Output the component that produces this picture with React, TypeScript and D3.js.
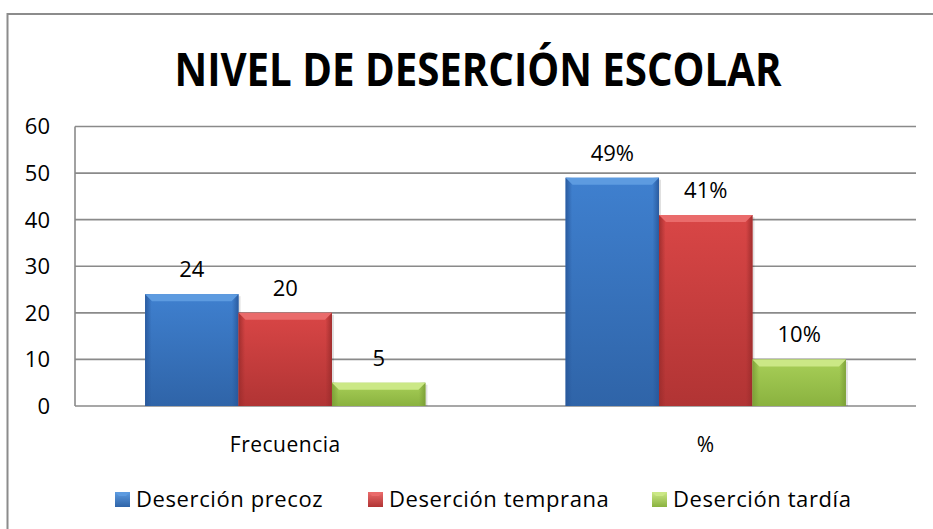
import React from "react";
import * as d3 from "d3";

const title = "NIVEL DE DESERCIÓN ESCOLAR";
const categories = ["Frecuencia", "%"];
const seriesNames = ["Deserción precoz", "Deserción temprana", "Deserción tardía"];
const precoz = [24, 49];
const temprana = [20, 41];
const tardia = [5, 10];
const labelSuffix = ["", "%"];
const yTicks = [0, 10, 20, 30, 40, 50, 60];

const seriesValues = [precoz, temprana, tardia];
const palettes = [
  { top: "#5d9be0", main1: "#3f80cf", main2: "#2f64a8", edge: "#28579a" },
  { top: "#ea6b6b", main1: "#d94646", main2: "#b13434", edge: "#9c2c2c" },
  { top: "#cbe886", main1: "#a8cf58", main2: "#8ab23f", edge: "#7a9e36" },
];

const W = 933;
const H = 529;
const left = 75;
const right = 916;
const top = 126.5;
const bottom = 406;
const FONT = "'Open Sans', sans-serif";

export default function App() {
  const y = d3.scaleLinear().domain([0, 60]).range([bottom, top]);
  const x0 = d3.scaleBand<string>().domain(categories).range([left, right]).paddingInner(0).paddingOuter(0);
  const groupW = x0.bandwidth();
  const barW = groupW / 4.5;
  const inner = d3.scaleBand<string>().domain(seriesNames).range([0.75 * barW, 0.75 * barW + 3 * barW]);

  return (
    <svg
      width={W}
      height={H}
      style={{ position: "absolute", left: 0, top: 0, background: "#fff" }}
      fontFamily={FONT}
    >
      <defs>
        {palettes.map((p, i) => (
          <React.Fragment key={i}>
            <linearGradient id={`main${i}`} x1="0" y1="0" x2="0" y2="1">
              <stop offset="0" stopColor={p.main1} />
              <stop offset="1" stopColor={p.main2} />
            </linearGradient>
            <linearGradient id={`side${i}`} x1="0" y1="0" x2="1" y2="0">
              <stop offset="0" stopColor={p.edge} stopOpacity={0.9} />
              <stop offset="0.07" stopColor={p.edge} stopOpacity={0} />
              <stop offset="0.93" stopColor={p.edge} stopOpacity={0} />
              <stop offset="1" stopColor={p.edge} stopOpacity={0.9} />
            </linearGradient>
            <linearGradient id={`leg${i}`} x1="0" y1="0" x2="0" y2="1">
              <stop offset="0" stopColor={p.top} />
              <stop offset="1" stopColor={p.main2} />
            </linearGradient>
          </React.Fragment>
        ))}
      </defs>

      {/* outer frame */}
      <rect x={7.5} y={14} width={W + 20} height={H + 20} fill="#fff" stroke="#8c8c8c" strokeWidth={2} />

      {/* title */}
      <text
        x={478}
        y={86}
        textAnchor="middle"
        fontSize={46}
        fontWeight="bold"
        fill="#000"
        textLength={607}
        lengthAdjust="spacingAndGlyphs"
      >
        {title}
      </text>

      {/* gridlines */}
      {yTicks.map((t) => (
        <g key={t}>
          <line x1={left} x2={right} y1={y(t)} y2={y(t)} stroke="#8a8a8a" strokeWidth={1.6} />
          <text x={50} y={y(t)} dy="0.36em" textAnchor="end" fontSize={22} fill="#000">
            {t}
          </text>
        </g>
      ))}
      <line x1={left} x2={left} y1={top} y2={bottom} stroke="#8a8a8a" strokeWidth={1.6} />

      {/* bars */}
      {categories.map((c, ci) => (
        <g key={c} transform={`translate(${x0(c)},0)`}>
          {seriesNames.map((s, si) => {
            const v = seriesValues[si][ci];
            const bx = inner(s)!;
            const by = y(v);
            const bh = bottom - by;
            const bev = Math.min(7, bh / 2);
            return (
              <g key={s}>
                <rect x={bx + 2} y={by + 2} width={barW} height={bh - 2} fill="#000" opacity={0.12} />
                <rect x={bx} y={by} width={barW} height={bh} fill={`url(#main${si})`} />
                <rect x={bx} y={by} width={barW} height={bh} fill={`url(#side${si})`} />
                <path
                  d={`M${bx},${by} L${bx + barW},${by} L${bx + barW - bev},${by + bev} L${bx + bev},${by + bev} Z`}
                  fill={palettes[si].top}
                />
                <text x={bx + barW / 2} y={by - 17} textAnchor="middle" fontSize={22} fill="#000">
                  {v + labelSuffix[ci]}
                </text>
              </g>
            );
          })}
          <text x={groupW / 2} y={452} textAnchor="middle" fontSize={21} fill="#000" letterSpacing={0.5}>
            {c}
          </text>
        </g>
      ))}

      {/* legend */}
      {seriesNames.map((s, i) => {
        const lx = [115, 368, 652][i];
        return (
          <g key={s}>
            <rect x={lx} y={492} width={15} height={15} fill={`url(#leg${i})`} />
            <path d={`M${lx},492 L${lx + 15},492 L${lx + 11},496 L${lx + 4},496 Z`} fill={palettes[i].top} />
            <text x={lx + 21} y={507} fontSize={22} fill="#000" letterSpacing={0.6}>
              {s}
            </text>
          </g>
        );
      })}
    </svg>
  );
}
